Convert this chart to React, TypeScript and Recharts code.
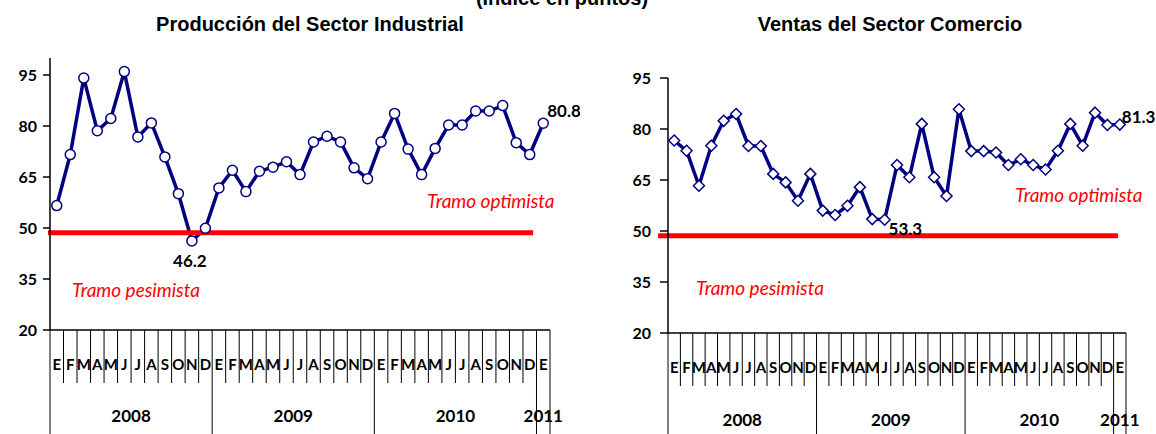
import { LabelList, Line, LineChart, ReferenceLine, XAxis, YAxis } from "recharts";

// Ene 2008 .. Ene 2011, one letter per month (Spanish initials).
const months = [
  "E", "F", "M", "A", "M", "J", "J", "A", "S", "O", "N", "D",
  "E", "F", "M", "A", "M", "J", "J", "A", "S", "O", "N", "D",
  "E", "F", "M", "A", "M", "J", "J", "A", "S", "O", "N", "D",
  "E",
];
const years = ["2008", "2009", "2010", "2011"];

const industria = [
  56.6, 71.6, 94.1, 78.6, 82.2, 96.0, 76.8, 80.9, 70.9, 60.1, 46.2, 49.9,
  61.8, 67.0, 60.7, 66.7, 67.9, 69.5, 65.7, 75.3, 77.0, 75.3, 67.7, 64.5,
  75.3, 83.7, 73.2, 65.7, 73.4, 80.3, 80.3, 84.4, 84.4, 86.0, 75.1, 71.6,
  80.8,
];

const comercio = [
  76.6, 73.6, 63.3, 75.1, 82.4, 84.4, 75.0, 75.0, 66.8, 64.3, 58.9, 66.8,
  56.0, 54.7, 57.4, 62.9, 53.5, 53.3, 69.4, 65.8, 81.5, 65.8, 60.3, 85.8,
  73.5, 73.5, 73.1, 69.4, 71.1, 69.4, 68.1, 73.6, 81.5, 75.1, 84.8, 81.2,
  81.3,
];

const industriaTicks = [20, 35, 50, 65, 80, 95];
const comercioTicks = [20, 35, 50, 65, 80, 95];

// threshold line (optimista / pesimista), in month units along the axis
const umbral = 48.6;
const industriaUmbral = { from: -0.15, to: 35.75 };
const comercioUmbral = { from: -0.8, to: 36.35 };

const NAVY = "#000080";
const RED = "#ff0000";
const CALIBRI = "Lato, 'Open Sans', sans-serif";
const ARIAL = "'Liberation Sans', Arial, sans-serif";

const monthEdges = Array.from({ length: months.length + 1 }, (_, i) => i);

const MonthTick = (props: any) => {
  const { x, y, payload, band, axisHeight, monthLen, monthY, yearY } = props;
  const k = payload.value as number;
  const n = months.length;
  const isYearEdge = k % 12 === 0 || k === n;
  const span = Math.min(12, n - k);
  return (
    <g>
      <line
        x1={x}
        x2={x}
        y1={y}
        y2={isYearEdge ? y + axisHeight : y + monthLen}
        stroke="#000"
        strokeWidth={1}
      />
      {k < n && (
        <text
          x={x + band / 2}
          y={y + monthY}
          textAnchor="middle"
          fontFamily={CALIBRI}
          fontWeight={700}
          fontSize={15}
          fill="#000"
        >
          {months[k]}
        </text>
      )}
      {k % 12 === 0 && k < n && (
        <text
          x={x + (band * span) / 2}
          y={y + yearY}
          textAnchor="middle"
          fontFamily={CALIBRI}
          fontWeight={700}
          fontSize={17}
          fill="#000"
        >
          {years[k / 12]}
        </text>
      )}
    </g>
  );
};

const Diamond = (props: any) => {
  const { cx, cy, index } = props;
  if (cx == null || cy == null) return null;
  const s = 5.5;
  return (
    <polygon
      key={`d-${index}`}
      points={`${cx},${cy - s} ${cx + s},${cy} ${cx},${cy + s} ${cx - s},${cy}`}
      fill="#fff"
      stroke={NAVY}
      strokeWidth={1.5}
    />
  );
};

type LabelSpec = { index: number; dx: number; dy: number; anchor: "start" | "middle" | "end" };

const makeLabel = (specs: LabelSpec[]) => (p: any) => {
  const spec = specs.find((s) => s.index === p.index);
  if (!spec) return null;
  return (
    <text
      key={`l-${p.index}`}
      x={p.x + spec.dx}
      y={p.y + spec.dy}
      textAnchor={spec.anchor}
      fontFamily={CALIBRI}
      fontWeight={700}
      fontSize={17}
      fill="#000"
    >
      {Number(p.value).toFixed(1)}
    </text>
  );
};

const Panel = ({
  values,
  ticks,
  domain,
  width,
  top,
  left,
  axisHeight,
  monthLen,
  monthY,
  yearY,
  tickSize,
  tickMargin,
  dot,
  labels,
  redLine,
}: {
  values: number[];
  ticks: number[];
  domain: [number, number];
  width: number;
  top: number;
  left: number;
  axisHeight: number;
  monthLen: number;
  monthY: number;
  yearY: number;
  tickSize: number;
  tickMargin: number;
  dot: any;
  labels: LabelSpec[];
  redLine: { from: number; to: number };
}) => {
  const right = 30;
  const yWidth = 50;
  const band = (width - left - yWidth - right) / months.length;
  const data = months.map((m, i) => ({ x: i + 0.5, month: m, value: values[i] }));
  return (
    <LineChart
      width={width}
      height={434}
      data={data}
      margin={{ top, right, bottom: 0, left }}
    >
      <XAxis
        type="number"
        dataKey="x"
        domain={[0, months.length]}
        ticks={monthEdges}
        interval={0}
        height={axisHeight}
        tickSize={0}
        tickMargin={0}
        tickLine={false}
        axisLine={{ stroke: "#000", strokeWidth: 1.5 }}
        tick={
          <MonthTick
            band={band}
            axisHeight={axisHeight}
            monthLen={monthLen}
            monthY={monthY}
            yearY={yearY}
          />
        }
      />
      <YAxis
        width={yWidth}
        domain={domain}
        ticks={ticks}
        interval={0}
        tickSize={tickSize}
        tickMargin={tickMargin}
        axisLine={{ stroke: "#000", strokeWidth: 1.5 }}
        tickLine={{ stroke: "#000", strokeWidth: 1.5 }}
        tick={{ fill: "#000", fontFamily: CALIBRI, fontWeight: 700, fontSize: 16 }}
      />
      <Line
        type="linear"
        dataKey="value"
        stroke={NAVY}
        strokeWidth={3.5}
        dot={dot}
        activeDot={false}
        isAnimationActive={false}
      >
        <LabelList dataKey="value" content={makeLabel(labels)} />
      </Line>
      <ReferenceLine
        segment={[
          { x: redLine.from, y: umbral },
          { x: redLine.to, y: umbral },
        ]}
        stroke={RED}
        strokeWidth={5}
        ifOverflow="visible"
      />
    </LineChart>
  );
};

const note = {
  fontFamily: CALIBRI,
  fontStyle: "italic" as const,
  fontSize: 19,
  fill: RED,
};

const title = {
  fontFamily: ARIAL,
  fontWeight: 700,
  fontSize: 20,
  fill: "#000",
};

export default function App() {
  return (
    <div style={{ position: "relative", width: 1156, height: 434, overflow: "hidden", background: "#fff" }}>
      <style>{`body{margin:0}`}</style>
      <div style={{ position: "absolute", left: 0, top: 0 }}>
        <Panel
          values={industria}
          ticks={industriaTicks}
          domain={[20, 100]}
          width={580}
          top={58}
          left={0}
          axisHeight={104}
          monthLen={53}
          monthY={40}
          yearY={92}
          tickSize={7}
          tickMargin={6}
          dot={{ r: 5, fill: "#fff", stroke: NAVY, strokeWidth: 1.5 }}
          labels={[
            { index: 10, dx: -2, dy: 26, anchor: "middle" },
            { index: 36, dx: 4, dy: -6, anchor: "start" },
          ]}
          redLine={industriaUmbral}
        />
      </div>
      <div style={{ position: "absolute", left: 580, top: 0 }}>
        <Panel
          values={comercio}
          ticks={comercioTicks}
          domain={[20, 95]}
          width={576}
          top={78}
          left={38}
          axisHeight={101}
          monthLen={53}
          monthY={40}
          yearY={93}
          tickSize={8}
          tickMargin={9}
          dot={<Diamond />}
          labels={[
            { index: 17, dx: 4, dy: 15, anchor: "start" },
            { index: 36, dx: 2, dy: -2, anchor: "start" },
          ]}
          redLine={comercioUmbral}
        />
      </div>
      <svg
        width={1156}
        height={434}
        style={{ position: "absolute", left: 0, top: 0, pointerEvents: "none" }}
      >
        <text x={562} y={5} textAnchor="middle" {...title}>
          (Índice en puntos)
        </text>
        <text x={310} y={31} textAnchor="middle" {...title}>
          Producción del Sector Industrial
        </text>
        <text x={890} y={31} textAnchor="middle" {...title}>
          Ventas del Sector Comercio
        </text>
        <text x={427} y={208} {...note}>
          Tramo optimista
        </text>
        <text x={72} y={297} {...note}>
          Tramo pesimista
        </text>
        <text x={1015} y={202} {...note}>
          Tramo optimista
        </text>
        <text x={696} y={295} {...note}>
          Tramo pesimista
        </text>
      </svg>
    </div>
  );
}
